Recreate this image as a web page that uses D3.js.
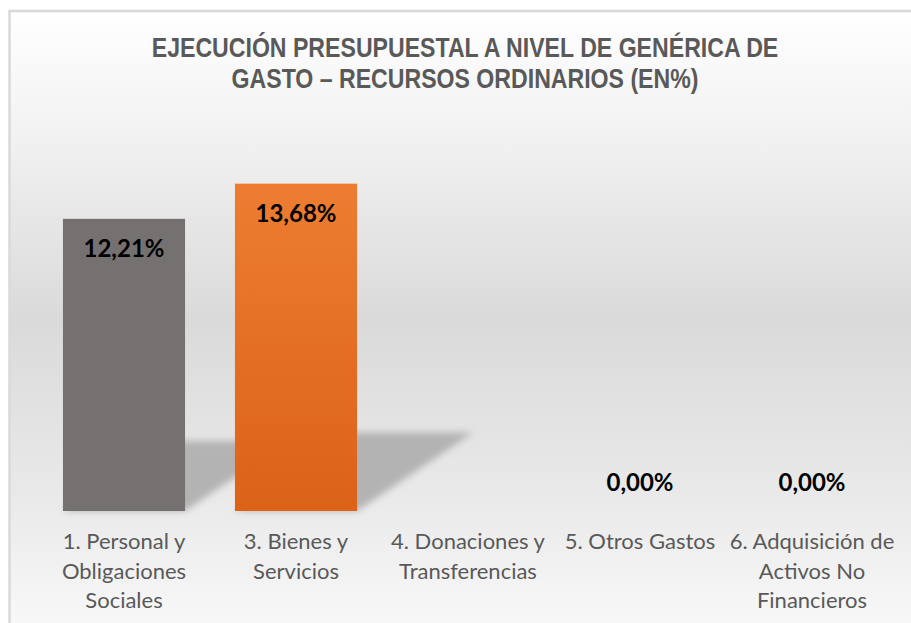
<!DOCTYPE html>
<html>
<head>
<meta charset="utf-8">
<script src="https://cdn.jsdelivr.net/npm/d3@7"></script>
<style>
  body { margin: 0; background: #ffffff; }
  svg { display: block; }
</style>
</head>
<body>
<svg width="911" height="623"></svg>
<script>
// Chart data

const CATEGORIES = [
  "1. Personal y\nObligaciones\nSociales",
  "3. Bienes y\nServicios",
  "4. Donaciones y\nTransferencias",
  "5. Otros Gastos",
  "6. Adquisición de\nActivos No\nFinancieros",
];

// null = no data label drawn
const VALUES = [12.21, 13.68, null, 0, 0];

const BAR_COLORS = ["#767171", "url(#orangeGrad)", "#767171", "#767171", "#767171"];

const TITLE_LINES = [
  "EJECUCIÓN PRESUPUESTAL A NIVEL DE GENÉRICA DE",
  "GASTO – RECURSOS ORDINARIOS (EN%)",
];

let svg = d3.select("svg"),
  width = +svg.attr("width"),
  height = +svg.attr("height");

let defs = svg.append("defs");

let bg = defs
  .append("linearGradient")
  .attr("id", "bgGrad")
  .attr("x1", 0)
  .attr("y1", 0)
  .attr("x2", 0)
  .attr("y2", 1);
bg.append("stop").attr("offset", "0%").attr("stop-color", "#ffffff");
bg.append("stop").attr("offset", "20%").attr("stop-color", "#f1f1f1");
bg.append("stop").attr("offset", "48%").attr("stop-color", "#dadada");
bg.append("stop").attr("offset", "75%").attr("stop-color", "#e9e9e9");
bg.append("stop").attr("offset", "100%").attr("stop-color", "#fbfbfb");

let og = defs
  .append("linearGradient")
  .attr("id", "orangeGrad")
  .attr("x1", 0)
  .attr("y1", 0)
  .attr("x2", 0)
  .attr("y2", 1);
og.append("stop").attr("offset", "0%").attr("stop-color", "#ed7d32");
og.append("stop").attr("offset", "100%").attr("stop-color", "#db6216");

defs
  .append("filter")
  .attr("id", "blur")
  .attr("x", "-20%")
  .attr("y", "-20%")
  .attr("width", "140%")
  .attr("height", "140%")
  .append("feGaussianBlur")
  .attr("stdDeviation", 3.5);

// chart area with border
svg
  .append("rect")
  .attr("x", 9.5)
  .attr("y", 11)
  .attr("width", width + 20)
  .attr("height", height + 20)
  .attr("fill", "url(#bgGrad)")
  .attr("stroke", "#d9d9d9")
  .attr("stroke-width", 2.5);

// title (narrow bold look: squeeze Liberation Sans horizontally)
svg
  .append("g")
  .attr("transform", "translate(465,0) scale(0.826,1)")
  .selectAll("text")
  .data(TITLE_LINES)
  .enter()
  .append("text")
  .attr("x", 0)
  .attr("y", function (d, i) {
    return 57 + i * 31;
  })
  .attr("text-anchor", "middle")
  .attr("fill", "#595959")
  .style("font-family", "'Liberation Sans', Arial, sans-serif")
  .style("font-weight", "bold")
  .style("font-size", "28px")
  .text(function (d) {
    return d;
  });

let x = d3
  .scaleBand()
  .domain(CATEGORIES)
  .range([38, 898])
  .paddingInner(0.29)
  .paddingOuter(0.145);

let y = d3.scaleLinear().domain([0, 14]).range([511, 176]);

let data = CATEGORIES.map(function (c, i) {
  return { cat: c, value: VALUES[i], color: BAR_COLORS[i] };
});
let drawn = data.filter(function (d) {
  return d.value;
});

// perspective shadow behind bars
svg
  .append("g")
  .attr("filter", "url(#blur)")
  .selectAll("polygon")
  .data(drawn)
  .enter()
  .append("polygon")
  .attr("fill", "#b3b3b3")
  .attr("points", function (d) {
    let x0 = x(d.cat),
      x1 = x0 + x.bandwidth(),
      h = y(0) - y(d.value),
      dx = h * 0.355,
      top = y(0) - h * 0.24;
    return [
      [x0, y(0)],
      [x1, y(0)],
      [x1 + dx, top],
      [x0 + dx, top],
    ].join(" ");
  });

svg
  .append("g")
  .selectAll("rect")
  .data(drawn)
  .enter()
  .append("rect")
  .attr("x", function (d) {
    return x(d.cat);
  })
  .attr("y", function (d) {
    return y(d.value);
  })
  .attr("width", x.bandwidth())
  .attr("height", function (d) {
    return y(0) - y(d.value);
  })
  .attr("fill", function (d) {
    return d.color;
  });

// data labels
svg
  .append("g")
  .selectAll("text")
  .data(
    data.filter(function (d) {
      return d.value !== null;
    })
  )
  .enter()
  .append("text")
  .attr("x", function (d) {
    return x(d.cat) + x.bandwidth() / 2;
  })
  .attr("y", function (d) {
    return d.value > 0 ? y(d.value) + 38 : y(0) - 20;
  })
  .attr("text-anchor", "middle")
  .attr("fill", "#000000")
  .style("font-family", "Lato, 'Open Sans', sans-serif")
  .style("font-weight", "bold")
  .style("font-size", "24px")
  .text(function (d) {
    return d.value.toFixed(2).replace(".", ",") + "%";
  });

// category labels
let xAxis = svg.append("g").attr("transform", "translate(0,549)");
xAxis
  .selectAll("text")
  .data(CATEGORIES)
  .enter()
  .append("text")
  .attr("x", function (d) {
    return x(d) + x.bandwidth() / 2;
  })
  .attr("text-anchor", "middle")
  .attr("fill", "#595959")
  .style("font-family", "Lato, 'Open Sans', sans-serif")
  .style("font-size", "22px")
  .each(function (d) {
    let t = d3.select(this);
    d.split("\n").forEach(function (line, i) {
      t.append("tspan")
        .attr("x", t.attr("x"))
        .attr("dy", i === 0 ? 0 : 29.5)
        .text(line);
    });
  });
</script>
</body>
</html>
